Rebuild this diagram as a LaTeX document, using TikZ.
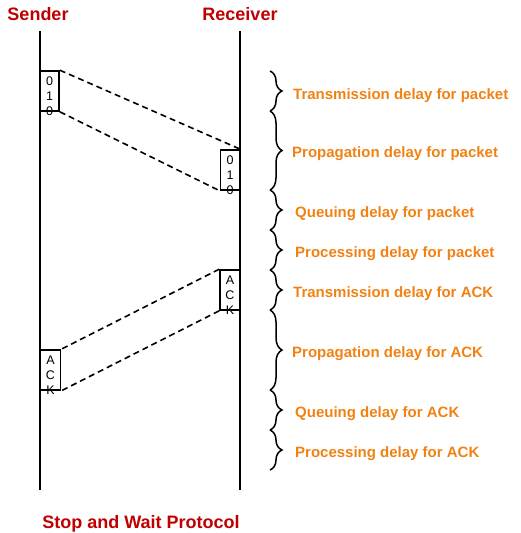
\documentclass[tikz,border=0pt]{standalone}
\usepackage{fontspec}
\setmainfont{Liberation Sans}
\usetikzlibrary{decorations.pathreplacing}
\definecolor{hdr}{RGB}{192,0,0}
\definecolor{lbl}{RGB}{240,130,20}
\tikzset{
  hdrtext/.style={text=hdr,font=\fontsize{18}{20}\selectfont\bfseries,inner sep=0pt},
  lbltext/.style={text=lbl,font=\fontsize{15}{17}\selectfont\bfseries,anchor=west,inner sep=0pt},
  lifeline/.style={line width=1.8pt},
  pkt/.style={draw,line width=1.6pt,minimum width=19pt,minimum height=40pt,inner sep=0pt},
  pkttext/.style={font=\fontsize{12.5}{15}\selectfont,align=center,inner sep=0pt},
  msg/.style={line width=1.6pt,dash pattern=on 6pt off 4pt},
  brc/.style={line width=1.5pt,decorate,decoration={brace,amplitude=12pt}}
}
\begin{document}
\begin{tikzpicture}[x=1pt,y=-1pt]
\useasboundingbox (0,0) rectangle (521,533);
\node[hdrtext] (sender) at (38,14) {Sender};
\node[hdrtext] (receiver) at (240,14) {Receiver};
\coordinate (st) at (40,31);
\coordinate (sb) at (40,490);
\coordinate (rt) at (240,31);
\coordinate (rb) at (240,490);
\draw[lifeline] (st) -- (sb);
\draw[lifeline] (rt) -- (rb);
% packet boxes
\node[pkt] (p1) at (49.5,91) {};
\node[pkttext] (p1t) at (49.5,96) {0\\1\\0};
\node[pkt] (p2) at (230,170) {};
\node[pkttext] (p2t) at (230,175) {0\\1\\0};
\node[pkt,minimum width=20pt] (a1) at (230,290) {};
\node[pkttext] (a1t) at (230,295) {A\\C\\K};
\node[pkt,minimum width=20pt] (a2) at (50.5,370) {};
\node[pkttext] (a2t) at (50.5,375) {A\\C\\K};
% messages
\draw[msg] (p1.north east) -- (p2.north east);
\draw[msg] (p1.south east) -- (p2.south west);
\draw[msg] (a1.north west) -- (a2.north east);
\draw[msg] (a1.south west) -- (a2.south east);
% braces
\coordinate (b0) at (270,71);
\coordinate (b1) at (270,111);
\coordinate (b2) at (270,190);
\coordinate (b3) at (270,230);
\coordinate (b4) at (270,270);
\coordinate (b5) at (270,310);
\coordinate (b6) at (270,390);
\coordinate (b7) at (270,430);
\coordinate (b8) at (270,470);
\draw[brc] (b0) -- (b1);
\draw[brc] (b1) -- (b2);
\draw[brc] (b2) -- (b3);
\draw[brc] (b3) -- (b4);
\draw[brc] (b4) -- (b5);
\draw[brc] (b5) -- (b6);
\draw[brc] (b6) -- (b7);
\draw[brc] (b7) -- (b8);
\node[lbltext] (l1) at (293,96) {Transmission delay for packet};
\node[lbltext] (l2) at (292,154) {Propagation delay for packet};
\node[lbltext] (l3) at (295,214) {Queuing delay for packet};
\node[lbltext] (l4) at (295,254) {Processing delay for packet};
\node[lbltext] (l5) at (293,294) {Transmission delay for ACK};
\node[lbltext] (l6) at (292,354) {Propagation delay for ACK};
\node[lbltext] (l7) at (295,414) {Queuing delay for ACK};
\node[lbltext] (l8) at (295,454) {Processing delay for ACK};
\node[hdrtext] (title) at (141,524) {Stop and Wait Protocol};
\end{tikzpicture}
\end{document}
